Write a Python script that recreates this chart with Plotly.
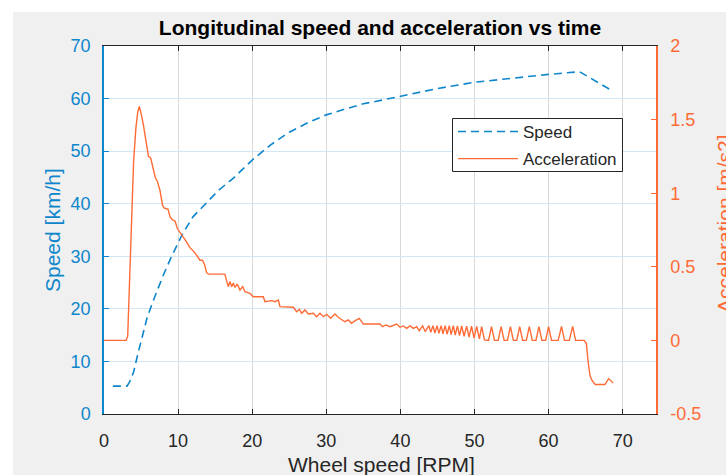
import plotly.graph_objects as go

# ---------------- data ----------------
speed_x = [1.2, 3.1, 3.5, 4.0, 4.6, 5.2, 5.8, 6.5, 7.3, 8.0, 9.0, 10.5, 12.0, 13.9, 15.5,
           17.5, 20.0, 22.5, 25.0, 27.5, 30.0, 32.5, 35.0, 37.5, 40.0, 45.0, 50.0, 55.0,
           60.0, 62.5, 64.2, 68.2]
speed_kmh = [5.3, 5.3, 6.2, 8.0, 11.6, 15.0, 18.2, 21.0, 24.0, 26.4, 29.6, 34.0, 37.5, 40.3,
             42.6, 44.9, 48.3, 51.2, 53.6, 55.4, 56.9, 58.0, 59.0, 59.7, 60.4, 61.9, 63.1,
             63.9, 64.6, 64.9, 65.1, 61.8]

acc_x = [0, 3.0, 3.2, 3.45, 3.7, 4.0, 4.3, 4.55, 4.77, 4.95, 5.1, 5.3, 5.45, 5.6, 5.8, 6.0,
         6.3, 6.5, 6.9, 7.2, 7.55, 7.9, 8.1, 8.65, 8.9, 9.2, 9.6, 9.9, 10.5, 11.0, 11.6, 12.2,
         12.96, 13.3, 13.6, 13.85, 14.1, 16.3, 16.77, 17.0, 17.23, 17.45, 17.68, 17.99, 18.35,
         18.71, 19.03, 19.7, 20.15, 21.5, 21.73, 22.63, 23.08, 23.53, 23.75, 25.55, 26.0,
         26.36, 26.68, 27.12, 27.57, 28.25, 28.7, 29.15, 29.6, 30.05, 30.59, 31.17, 31.62,
         32.5, 32.98, 33.4, 33.9, 34.46, 35.0, 37.25, 37.6, 38.06, 38.6, 39.5, 39.95, 40.4,
         40.85, 41.3, 41.75, 42.2, 42.55, 43.0, 43.35, 43.85, 44.1, 44.4, 44.65, 44.95, 45.2,
         45.5, 45.75, 46.05, 46.3, 46.6, 46.85, 47.15, 47.4, 47.7, 47.98, 48.27, 48.6, 48.94,
         49.27, 49.6, 49.95, 50.3, 50.66, 50.97, 51.35, 51.9, 52.3, 52.7, 53.2, 53.6, 54.0,
         54.45, 54.85, 55.25, 55.7, 56.1, 56.5, 57.0, 57.4, 57.8, 58.3, 58.7, 59.1, 59.6,
         60.0, 60.4, 61.3, 61.75, 62.15, 62.8, 63.25, 63.65, 64.8, 65.1, 65.35, 65.6, 65.85,
         66.3, 67.6, 67.85, 68.1, 68.35, 68.7]
acc_ms2 = [0, 0, 0.03, 0.4, 0.9, 1.22, 1.44, 1.55, 1.59, 1.56, 1.52, 1.47, 1.42, 1.38, 1.30,
           1.25, 1.24, 1.20, 1.11, 1.08, 1.02, 0.92, 0.90, 0.89, 0.84, 0.82, 0.81, 0.76, 0.72,
           0.68, 0.63, 0.60, 0.545, 0.545, 0.51, 0.46, 0.45, 0.45, 0.365, 0.40, 0.365, 0.39,
           0.36, 0.383, 0.342, 0.365, 0.331, 0.32, 0.297, 0.297, 0.263, 0.27, 0.263, 0.274,
           0.229, 0.225, 0.195, 0.211, 0.184, 0.207, 0.179, 0.184, 0.161, 0.184, 0.161, 0.177,
           0.15, 0.179, 0.157, 0.127, 0.139, 0.116, 0.134, 0.150, 0.111, 0.111, 0.093, 0.105,
           0.093, 0.111, 0.089, 0.098, 0.082, 0.098, 0.082, 0.093, 0.066, 0.098, 0.06, 0.1,
           0.055, 0.1, 0.05, 0.1, 0.048, 0.1, 0.045, 0.1, 0.042, 0.1, 0.04, 0.1, 0.036, 0.098,
           0.032, 0.098, 0.028, 0.097, 0.022, 0.096, 0.016, 0.095, 0.01, 0.093, 0.003, 0.0,
           0.093, 0.0, 0.0, 0.093, 0.0, 0.0, 0.093, 0.0, 0.0, 0.093, 0.0, 0.0, 0.093, 0.0, 0.0,
           0.093, 0.0, 0.0, 0.093, 0.0, 0.0, 0.095, 0.0, 0.0, 0.095, 0.0, 0.0, -0.02, -0.15,
           -0.24, -0.27, -0.30, -0.30, -0.28, -0.26, -0.27, -0.29]

x_ticks = [0, 10, 20, 30, 40, 50, 60, 70]
speed_ticks = [0, 10, 20, 30, 40, 50, 60, 70]
acc_ticks = [-0.5, 0, 0.5, 1, 1.5, 2]
acc_tick_text = ["-0.5", "0", "0.5", "1", "1.5", "2"]

# ---------------- style ----------------
BLUE = "#0e86cc"
ORANGE = "#fe6b36"
DARK = "#262626"
FONT = "Liberation Sans, Arial, Helvetica, sans-serif"

W, H = 726, 475
L, R, T, B = 104, 656, 46, 414
pw, ph = R - L, B - T


def px_x(p):
    return (p - L) / pw


def px_y(p):
    return (B - p) / ph


fig = go.Figure()
fig.add_trace(go.Scatter(x=speed_x, y=speed_kmh, name="Speed", mode="lines",
                         legendgroup="a",
                         line=dict(color=BLUE, width=1.6, dash="8px,5px"), yaxis="y"))
fig.add_trace(go.Scatter(x=acc_x, y=acc_ms2, name="Acceleration", mode="lines",
                         legendgroup="b",
                         line=dict(color=ORANGE, width=1.4), yaxis="y2"))

fig.update_layout(
    width=W, height=H,
    margin=dict(l=L, r=W - R, t=T, b=H - B, pad=0),
    paper_bgcolor="#f0f0f0",
    plot_bgcolor="white",
    font=dict(family=FONT, color=DARK),
    title=dict(text="<b>Longitudinal speed and acceleration vs time</b>",
               font=dict(size=21, color="black", family=FONT),
               x=0.5, xref="paper", xanchor="center",
               y=1 - 28 / H, yref="container", yanchor="middle"),
    xaxis=dict(range=[0, 74.5], tickvals=x_ticks, ticks="inside", ticklen=5,
               tickcolor=DARK, showline=True, linecolor=DARK, linewidth=1,
               mirror="ticks", showgrid=True, gridcolor="#d8d8d8", gridwidth=1,
               zeroline=False, tickfont=dict(size=18, color=DARK),
               ticklabelstandoff=10),
    yaxis=dict(range=[0, 70], tickvals=speed_ticks, ticks="inside", ticklen=5,
               tickcolor=BLUE, showline=True, linecolor=BLUE, linewidth=1.5,
               showgrid=True, gridcolor="#d3e6f5", gridwidth=1, zeroline=False,
               tickfont=dict(size=18, color=BLUE), ticklabelstandoff=8),
    yaxis2=dict(range=[-0.5, 2], tickvals=acc_ticks, ticktext=acc_tick_text,
                overlaying="y", side="right", ticks="inside", ticklen=5,
                tickcolor=ORANGE, showline=True, linecolor=ORANGE, linewidth=1.5,
                showgrid=False, zeroline=False,
                tickfont=dict(size=18, color=ORANGE), ticklabelstandoff=9),
    legend=dict(x=px_x(453), y=px_y(114), xanchor="left", yanchor="top",
                bgcolor="rgba(0,0,0,0)", borderwidth=0,
                font=dict(size=17, color=DARK, family=FONT),
                itemwidth=60, tracegroupgap=2, traceorder="grouped"),
    showlegend=True,
)

# legend box (drawn as a shape so its size matches the reference)
fig.add_shape(type="rect", xref="paper", yref="paper", layer="above",
              x0=px_x(452.5), x1=px_x(622.5), y0=px_y(171.5), y1=px_y(118.5),
              fillcolor="white", line=dict(color=DARK, width=1))

fig.add_annotation(text="Speed [km/h]", textangle=-90, showarrow=False,
                   xref="paper", yref="paper", x=px_x(52), y=0.5,
                   xanchor="center", yanchor="middle",
                   font=dict(size=21, color=BLUE, family=FONT))
fig.add_annotation(text="Acceleration [m/s2]", textangle=-90, showarrow=False,
                   xref="paper", yref="paper", x=px_x(724), y=px_y(224),
                   xanchor="center", yanchor="middle",
                   font=dict(size=21, color=ORANGE, family=FONT))
fig.add_annotation(text="Wheel speed [RPM]", showarrow=False,
                   xref="paper", yref="paper", x=px_x(381), y=px_y(464),
                   xanchor="center", yanchor="middle",
                   font=dict(size=21, color=DARK, family=FONT))

# white border strips (top and left) of the exported figure
fig.add_shape(type="rect", xref="paper", yref="paper", layer="below",
              x0=-0.5, x1=1.5, y0=px_y(12), y1=1.5,
              fillcolor="white", line=dict(width=0))
fig.add_shape(type="rect", xref="paper", yref="paper", layer="below",
              x0=-0.5, x1=px_x(13), y0=-0.5, y1=1.5,
              fillcolor="white", line=dict(width=0))

fig.write_html("out.html")
